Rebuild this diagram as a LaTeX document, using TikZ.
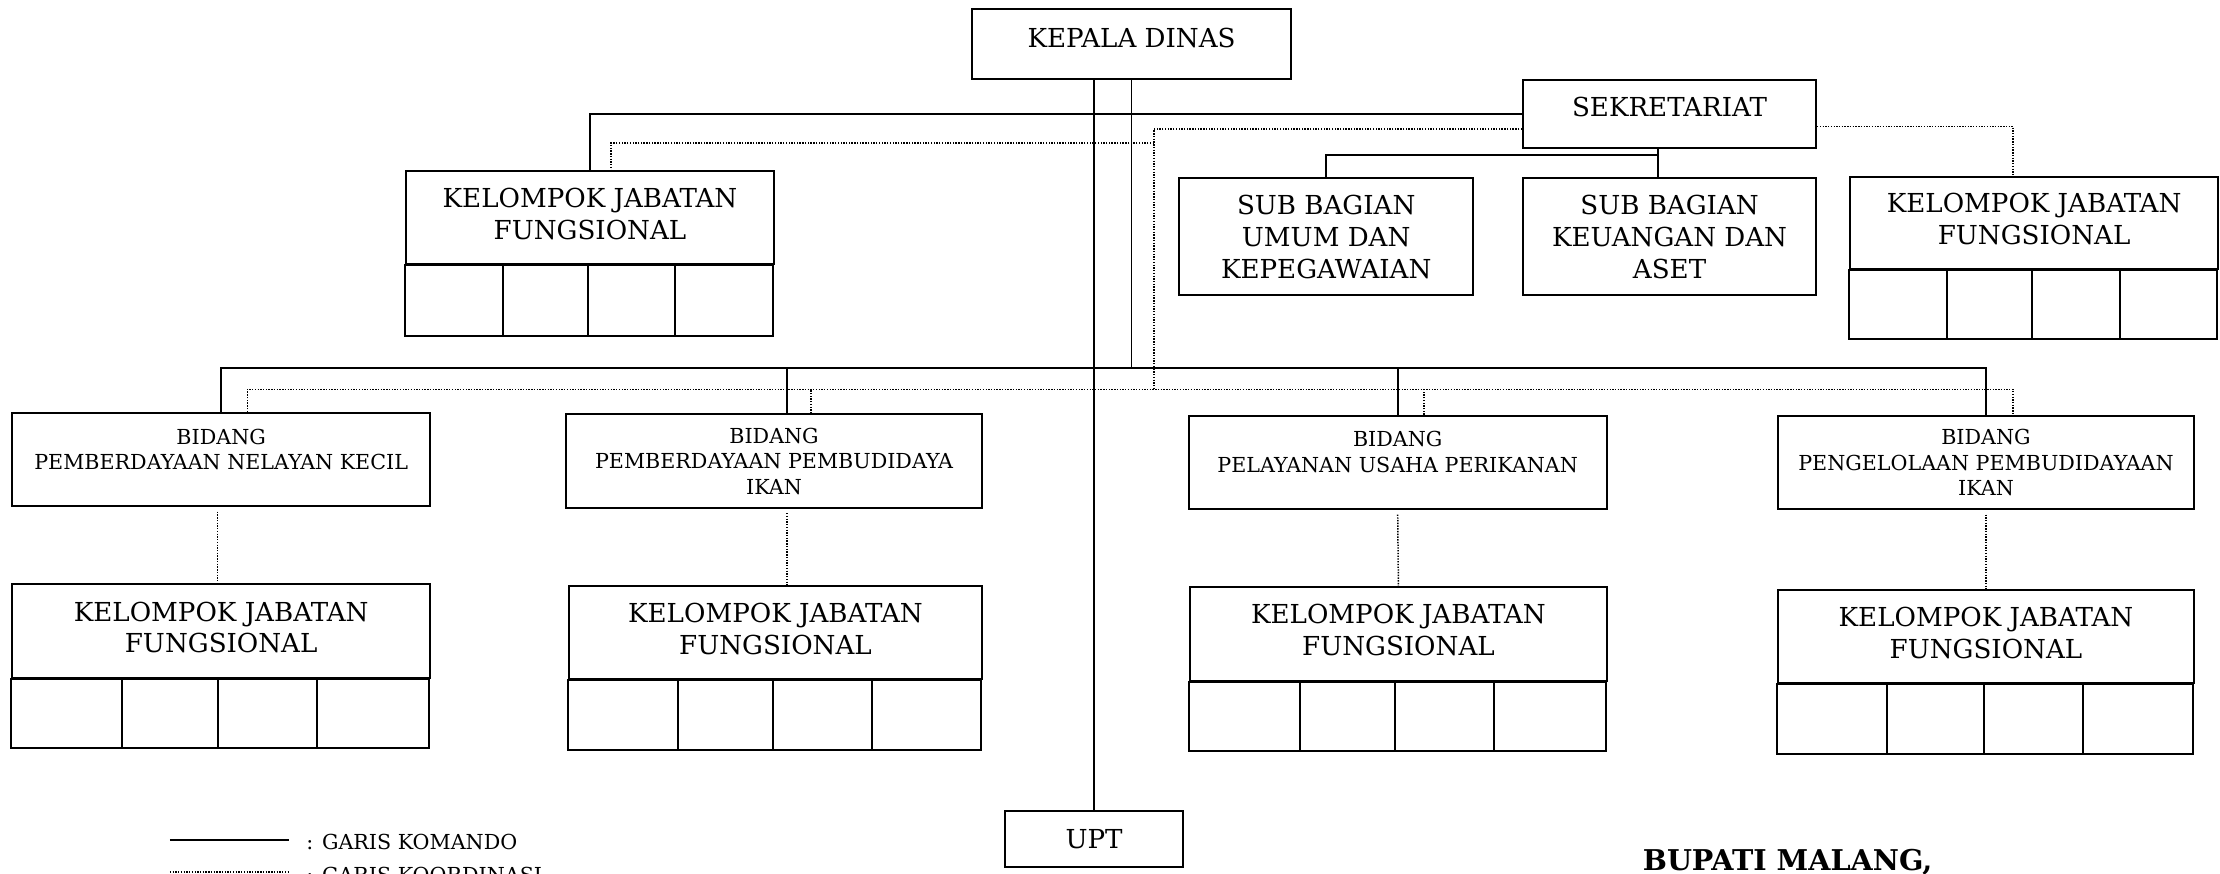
\documentclass[tikz,border=0pt]{standalone}
\usepackage{fontspec}
\setmainfont{DejaVu Serif}
\usetikzlibrary{positioning}
\newlength{\pxu}
\setlength{\pxu}{0.2mm}

\begin{document}
\begin{tikzpicture}[x=0.2mm,y=-0.2mm]
\tikzset{unitbox/.style={draw,line width=0.8pt,anchor=north west,inner sep=0pt,align=center,font=\fontsize{10.5}{12.8}\selectfont},
  bidangbox/.style={unitbox,font=\fontsize{8.3}{10.2}\selectfont},
  cellline/.style={line width=0.8pt},
  komando/.style={line width=0.75pt},
  koordinasi/.style={line width=0.6pt,dash pattern=on 0.55pt off 0.55pt},
  legend/.style={inner sep=0pt,font=\fontsize{8.3}{10}\selectfont}}
\useasboundingbox (0,0) rectangle (1568,617);

% kepala, sekretariat
\node[unitbox,minimum width=225\pxu,minimum height=49\pxu,text depth=5pt] (kepala) at (686,6) {KEPALA DINAS};
\node[unitbox,minimum width=207\pxu,minimum height=48\pxu,text depth=5.7pt] (sekre) at (1075,56) {SEKRETARIAT};
\node[unitbox,minimum width=208\pxu,minimum height=83\pxu] (subumum) at (832,125) {SUB BAGIAN\\UMUM DAN\\KEPEGAWAIAN};
\node[unitbox,minimum width=207\pxu,minimum height=83\pxu] (subkeu) at (1075,125) {SUB BAGIAN\\KEUANGAN DAN\\ASET};

% kelompok jabatan fungsional (atas)
\node[unitbox,minimum width=260\pxu,minimum height=66\pxu,text depth=3pt] (kjfA) at (286,120) {KELOMPOK JABATAN\\FUNGSIONAL};
\draw[cellline] (kjfA.south west) rectangle ++(260,50);
\foreach \cx in {355,415,477} \draw[cellline] (kjfA.south -| \cx,0) -- ++(0,50);
\node[unitbox,minimum width=260\pxu,minimum height=65\pxu,text depth=3pt] (kjfB) at (1306,124) {KELOMPOK JABATAN\\FUNGSIONAL};
\draw[cellline] (kjfB.south west) rectangle ++(260,49);
\foreach \cx in {1375,1435,1497} \draw[cellline] (kjfB.south -| \cx,0) -- ++(0,49);

% bidang
\node[bidangbox,minimum width=295\pxu,minimum height=66\pxu,text depth=8.5pt] (bid1) at (8,291) {BIDANG\\PEMBERDAYAAN NELAYAN KECIL};
\node[bidangbox,minimum width=294\pxu,minimum height=66\pxu] (bid2) at (399,292) {BIDANG\\PEMBERDAYAAN PEMBUDIDAYA\\IKAN};
\node[bidangbox,minimum width=295\pxu,minimum height=66\pxu,text depth=8.5pt] (bid3) at (839,293) {BIDANG\\PELAYANAN USAHA PERIKANAN};
\node[bidangbox,minimum width=294\pxu,minimum height=66\pxu] (bid4) at (1255,293) {BIDANG\\PENGELOLAAN PEMBUDIDAYAAN\\IKAN};

% kelompok jabatan fungsional (bawah)
\node[unitbox,minimum width=295\pxu,minimum height=66\pxu,text depth=3pt] (kjf1) at (8,412) {KELOMPOK JABATAN\\FUNGSIONAL};
\draw[cellline] (kjf1.south west) rectangle ++(295,49);
\foreach \cx in {86,154,224} \draw[cellline] (kjf1.south -| \cx,0) -- ++(0,49);
\node[unitbox,minimum width=292\pxu,minimum height=66\pxu,text depth=3pt] (kjf2) at (401,413) {KELOMPOK JABATAN\\FUNGSIONAL};
\draw[cellline] (kjf2.south west) rectangle ++(292,49);
\foreach \cx in {479,546,616} \draw[cellline] (kjf2.south -| \cx,0) -- ++(0,49);
\node[unitbox,minimum width=294\pxu,minimum height=66\pxu,text depth=3pt] (kjf3) at (840,414) {KELOMPOK JABATAN\\FUNGSIONAL};
\draw[cellline] (kjf3.south west) rectangle ++(294,49);
\foreach \cx in {918,985,1055} \draw[cellline] (kjf3.south -| \cx,0) -- ++(0,49);
\node[unitbox,minimum width=294\pxu,minimum height=66\pxu,text depth=3pt] (kjf4) at (1255,416) {KELOMPOK JABATAN\\FUNGSIONAL};
\draw[cellline] (kjf4.south west) rectangle ++(294,49);
\foreach \cx in {1333,1401,1471} \draw[cellline] (kjf4.south -| \cx,0) -- ++(0,49);

\node[unitbox,minimum width=126\pxu,minimum height=40\pxu] (upt) at (709,572) {UPT};

% garis komando
\path (kepala.south) ++(0,203.5) coordinate (kbus);
\draw[komando] (kepala.south) -- (kbus);
\draw[komando] (upt.north |- kepala.south) -- (upt.north);
\draw[komando] (sekre.west) -| (kjfA.north);
\draw[komando] ([xshift=-1.6mm]sekre.south) -- ([xshift=-1.6mm]subkeu.north);
\draw[komando] ([xshift=-1.6mm,yshift=-0.8mm]sekre.south) -| (subumum.north);
\draw[komando] (bid1.north) |- (kbus) -| (bid4.north);
\draw[komando] ([xshift=1.8mm]bid2.north) |- (kbus);
\draw[komando] (bid3.north) |- (kbus);

% garis koordinasi
\coordinate (kd) at (815,275);
\coordinate (kdA) at (815,101);
\draw[koordinasi] ([yshift=-2.1mm]sekre.west) -| (kd);
\draw[koordinasi] (kdA) -| ([xshift=3mm]kjfA.north);
\draw[koordinasi] ([yshift=-1.7mm]sekre.east) -| ([xshift=-3mm]kjfB.north);
\draw[koordinasi] ([xshift=3.7mm]bid1.north) |- (kd) -| ([xshift=3.8mm]bid4.north);
\path ([xshift=5.2mm]bid2.north) coordinate (d2) ([xshift=3.7mm]bid3.north) coordinate (d3);
\draw[koordinasi] (d2) -- (d2 |- kd);
\draw[koordinasi] (d3) -- (d3 |- kd);
\draw[koordinasi] ([xshift=-0.5mm,yshift=-0.6mm]bid1.south) -- ([xshift=-0.5mm]kjf1.north);
\path ([xshift=1.8mm,yshift=-0.6mm]bid2.south) coordinate (v2);
\draw[koordinasi] (v2) -- (v2 |- kjf2.north);
\draw[koordinasi] ([yshift=-0.6mm]bid3.south) -- (kjf3.north);
\draw[koordinasi] ([yshift=-0.6mm]bid4.south) -- (kjf4.north);

% keterangan
\coordinate (lgk) at (120,593);
\draw[komando] (lgk) -- ++(84,0);
\node[legend,anchor=west] (lgkt) at (216,595) {: GARIS KOMANDO};
\coordinate (lgd) at (120,616);
\draw[koordinasi] (lgd) -- ++(84,0);
\node[legend,anchor=west] (lgdt) at (216,618) {: GARIS KOORDINASI};

\node[anchor=base west,inner sep=0pt,font=\bfseries\fontsize{11.5}{13}\selectfont] (bupati) at (1160,614.5) {BUPATI MALANG,};
\end{tikzpicture}
\end{document}
